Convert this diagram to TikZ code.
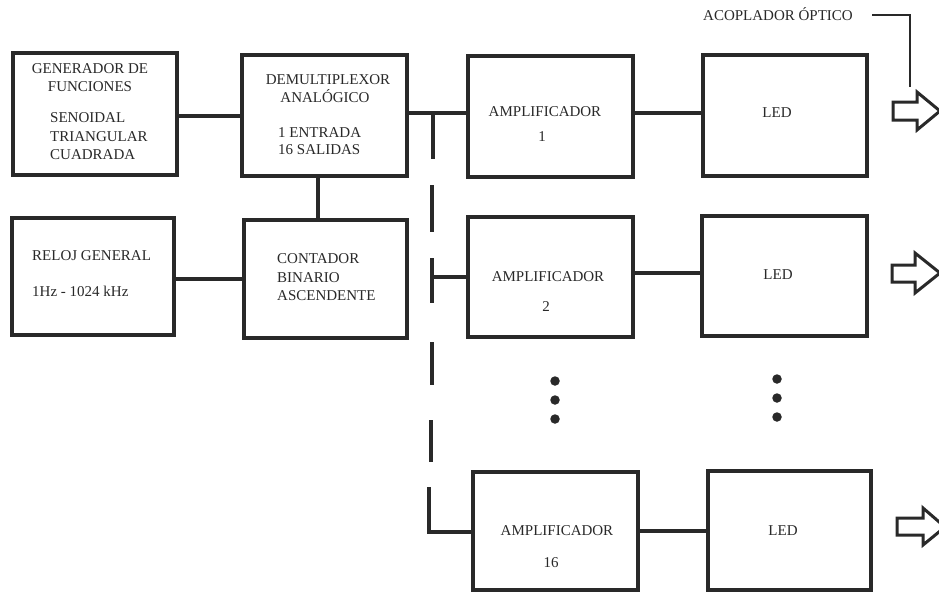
\documentclass[tikz,border=0pt]{standalone}
\usepackage{fontspec}
\setmainfont{Liberation Serif}
\definecolor{ink}{rgb}{0.16,0.16,0.16}
\begin{document}
\begin{tikzpicture}[x=1pt,y=-1pt,
  blk/.style={draw=ink, line width=3.3pt, inner sep=0pt, outer sep=0pt},
  txt/.style={inner sep=0pt, text height=9.8pt, text depth=0pt, font=\fontsize{15}{17}\selectfont, text=ink},
  wire/.style={draw=ink, line width=3.3pt},
  thin/.style={draw=ink, line width=1.2pt},
  hollow/.style={draw=ink, line width=3pt, line join=miter},
  dotn/.style={circle, fill=ink, inner sep=0pt, minimum size=9.5pt}]
\useasboundingbox (0,0) rectangle (939,592);
\fill[white] (0,0) rectangle (939,592);

% boxes
\node[blk, minimum width=164pt, minimum height=122pt] (gf) at (95,114) {};
\node[blk, minimum width=165pt, minimum height=121pt] (dmx) at (324.5,115.5) {};
\node[blk, minimum width=162pt, minimum height=117pt] (clk) at (93,276.5) {};
\node[blk, minimum width=163pt, minimum height=118pt] (cnt) at (325.5,279) {};
\node[blk, minimum width=165pt, minimum height=121pt] (amp1) at (550.5,116.5) {};
\node[blk, minimum width=164pt, minimum height=121pt] (led1) at (785,115.5) {};
\node[blk, minimum width=165pt, minimum height=120pt] (amp2) at (550.5,277) {};
\node[blk, minimum width=165pt, minimum height=120pt] (led2) at (784.5,276) {};
\node[blk, minimum width=165pt, minimum height=118pt] (amp16) at (555.5,531) {};
\node[blk, minimum width=163pt, minimum height=119pt] (led16) at (789.5,530.5) {};

% texts
\node[txt] (t1) at (90,69) {GENERADOR DE};
\node[txt] (t2) at (90,87) {FUNCIONES};
\node[txt, anchor=west] (t3) at (50,118) {SENOIDAL};
\node[txt, anchor=west] (t4) at (50,137) {TRIANGULAR};
\node[txt, anchor=west] (t5) at (50,155) {CUADRADA};
\node[txt] (t6) at (328,80) {DEMULTIPLEXOR};
\node[txt] (t7) at (325,98) {ANALÓGICO};
\node[txt, anchor=west] (t8) at (278,133) {1 ENTRADA};
\node[txt, anchor=west] (t9) at (278,150) {16 SALIDAS};
\node[txt, anchor=west] (t10) at (32,256) {RELOJ GENERAL};
\node[txt, anchor=west] (t11) at (32,292) {1Hz - 1024 kHz};
\node[txt, anchor=west] (t12) at (277,259) {CONTADOR};
\node[txt, anchor=west] (t13) at (277,278) {BINARIO};
\node[txt, anchor=west] (t14) at (277,296) {ASCENDENTE};
\node[txt] (t15) at (545,112) {AMPLIFICADOR};
\node[txt] (t16) at (542,137) {1};
\node[txt] (t17) at (548,277) {AMPLIFICADOR};
\node[txt] (t18) at (546,307) {2};
\node[txt] (t19) at (557,531) {AMPLIFICADOR};
\node[txt] (t20) at (551,563) {16};
\node[txt] (t21) at (777,113) {LED};
\node[txt] (t22) at (778,275) {LED};
\node[txt] (t23) at (783,531) {LED};
\node[txt] (acop) at (778,16) {ACOPLADOR ÓPTICO};

% helper coordinates
\coordinate (r1) at (0,116);
\coordinate (bus1) at (433,113);
\coordinate (bus1e) at (433,159);
\coordinate (dA1) at (432,185);
\coordinate (dA2) at (432,232);
\coordinate (dB1) at (432,258);
\coordinate (dB2) at (432,303);
\coordinate (b2) at (432,277);
\coordinate (dC1) at (432,342);
\coordinate (dC2) at (432,385);
\coordinate (dD1) at (431,420);
\coordinate (dD2) at (431,462);
\coordinate (dE1) at (429,487);
\coordinate (b16) at (429,532);
\coordinate (rl2) at (0,273);
\coordinate (rl16) at (0,531);
\coordinate (ac1) at (872,15);
\coordinate (ac2) at (910,15);
\coordinate (ac3) at (910,87);

% connectors
\draw[wire] (gf.east |- r1) -- (dmx.west |- r1);
\draw[wire] ([xshift=-6.5pt]dmx.south) -- ([xshift=-6.5pt]dmx.south |- cnt.north);
\draw[wire] (clk.east |- cnt.west) -- (cnt.west);
\draw[wire] (dmx.east |- bus1) -- (amp1.west |- bus1);
\draw[wire] (bus1) -- (bus1e);
\draw[wire] (dA1) -- (dA2);
\draw[wire] (dB1) -- (dB2);
\draw[wire] (b2) -- (amp2.west |- b2);
\draw[wire] (dC1) -- (dC2);
\draw[wire] (dD1) -- (dD2);
\draw[wire] (dE1) -- (b16) -- (amp16.west |- b16);
\draw[wire] (amp1.east |- bus1) -- (led1.west |- bus1);
\draw[wire] (amp2.east |- rl2) -- (led2.west |- rl2);
\draw[wire] (amp16.east |- rl16) -- (led16.west |- rl16);

% ellipsis dots
\node[dotn] (d1) at (555,381) {};
\node[dotn] (d2) at (555,400) {};
\node[dotn] (d3) at (555,419) {};
\node[dotn] (d4) at (777,379) {};
\node[dotn] (d5) at (777,398) {};
\node[dotn] (d6) at (777,417) {};

% optical coupler arrows
\draw[hollow] (893,102) -- (917,102) -- (917,92) -- (940,111) -- (917,130) -- (917,120) -- (893,120) -- cycle;
\draw[hollow] (892,265) -- (915,265) -- (915,253) -- (940,273) -- (915,293) -- (915,282) -- (892,282) -- cycle;
\draw[hollow] (897,518) -- (923,518) -- (923,508) -- (945,527) -- (923,545) -- (923,535) -- (897,535) -- cycle;

% coupler label leader
\draw[thin] (ac1) -- (ac2) -- (ac3);
\end{tikzpicture}
\end{document}
